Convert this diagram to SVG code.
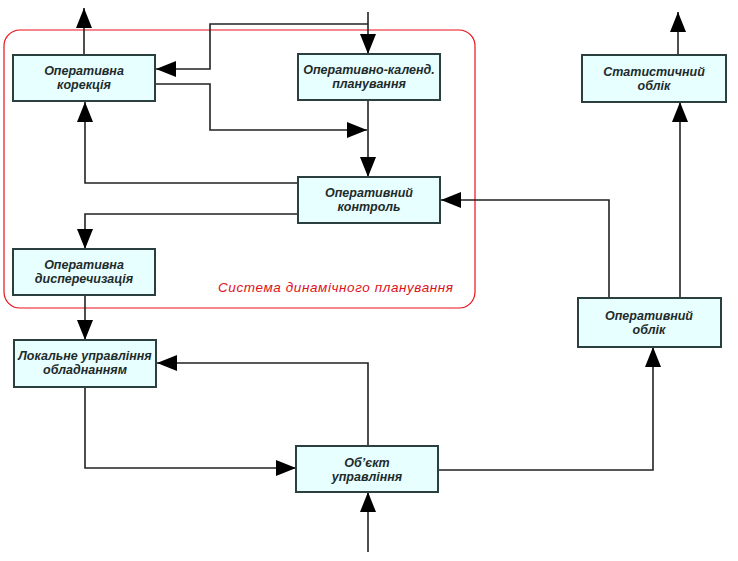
<svg xmlns="http://www.w3.org/2000/svg" width="738" height="561" viewBox="0 0 738 561">
<style>
.box{fill:#e8ffff;stroke:#2b3f3f;stroke-width:2}
.t{font-family:"Liberation Sans",Arial,sans-serif;font-size:12.5px;font-weight:bold;font-style:italic;fill:#1e2b2b;text-anchor:middle}
.c{fill:none;stroke:#222;stroke-width:1.6}
.red{font-family:"Liberation Sans",Arial,sans-serif;font-size:13.5px;font-style:italic;fill:#e0101a}
</style>
<defs>
<marker id="a" viewBox="0 0 20 16" refX="20" refY="8" markerWidth="20" markerHeight="16" markerUnits="userSpaceOnUse" orient="auto">
<path d="M0,0 L20,8 L0,16 Z" fill="#000"/>
</marker>
</defs>
<rect x="4" y="30" width="471" height="278" rx="16" fill="none" stroke="#e8101a" stroke-width="1.2"/>
<text class="red" x="218" y="292" textLength="235">Система динамічного планування</text>
<g id="connectors">
<path class="c" marker-end="url(#a)" d="M84,55 V8"/>
<path class="c" marker-end="url(#a)" d="M368,12 V54"/>
<path class="c" marker-end="url(#a)" d="M368,24 H210 V69 H156"/>
<path class="c" marker-end="url(#a)" d="M156,84 H210 V130 H367"/>
<path class="c" marker-end="url(#a)" d="M368,100 V177"/>
<path class="c" marker-end="url(#a)" d="M298,183 H85 V102"/>
<path class="c" marker-end="url(#a)" d="M298,214 H85 V249"/>
<path class="c" marker-end="url(#a)" d="M85,295 V340"/>
<path class="c" marker-end="url(#a)" d="M368,446 V363 H157"/>
<path class="c" marker-end="url(#a)" d="M85,387 V468 H296"/>
<path class="c" marker-end="url(#a)" d="M368,552 V492"/>
<path class="c" marker-end="url(#a)" d="M438,470 H653 V347"/>
<path class="c" marker-end="url(#a)" d="M609,298 V200 H441"/>
<path class="c" marker-end="url(#a)" d="M680,298 V102"/>
<path class="c" marker-end="url(#a)" d="M678,55 V12"/>
</g>
<g id="n1"><rect class="box" x="13" y="55" width="142" height="46"/><text class="t" x="84" y="75">Оперативна</text><text class="t" x="84" y="89">корекція</text></g>
<g id="n2"><rect class="box" x="298" y="54" width="142" height="46"/><text class="t" x="369" y="74">Оперативно-календ.</text><text class="t" x="369" y="88">планування</text></g>
<g id="n3"><rect class="box" x="298" y="177" width="142" height="46"/><text class="t" x="369" y="197">Оперативний</text><text class="t" x="369" y="211">контроль</text></g>
<g id="n4"><rect class="box" x="13" y="249" width="142" height="46"/><text class="t" x="84" y="269">Оперативна</text><text class="t" x="84" y="283">дисперечизація</text></g>
<g id="n5"><rect class="box" x="14" y="340" width="142" height="47"/><text class="t" x="85" y="360">Локальне управління</text><text class="t" x="85" y="374">обладнанням</text></g>
<g id="n6"><rect class="box" x="296" y="446" width="142" height="46"/><text class="t" x="367" y="467">Об’єкт</text><text class="t" x="367" y="481">управління</text></g>
<g id="n7"><rect class="box" x="582" y="55" width="144" height="47"/><text class="t" x="654" y="76">Статистичний</text><text class="t" x="654" y="90">облік</text></g>
<g id="n8"><rect class="box" x="578" y="298" width="143" height="49"/><text class="t" x="649" y="320">Оперативний</text><text class="t" x="649" y="334">облік</text></g>
</svg>
